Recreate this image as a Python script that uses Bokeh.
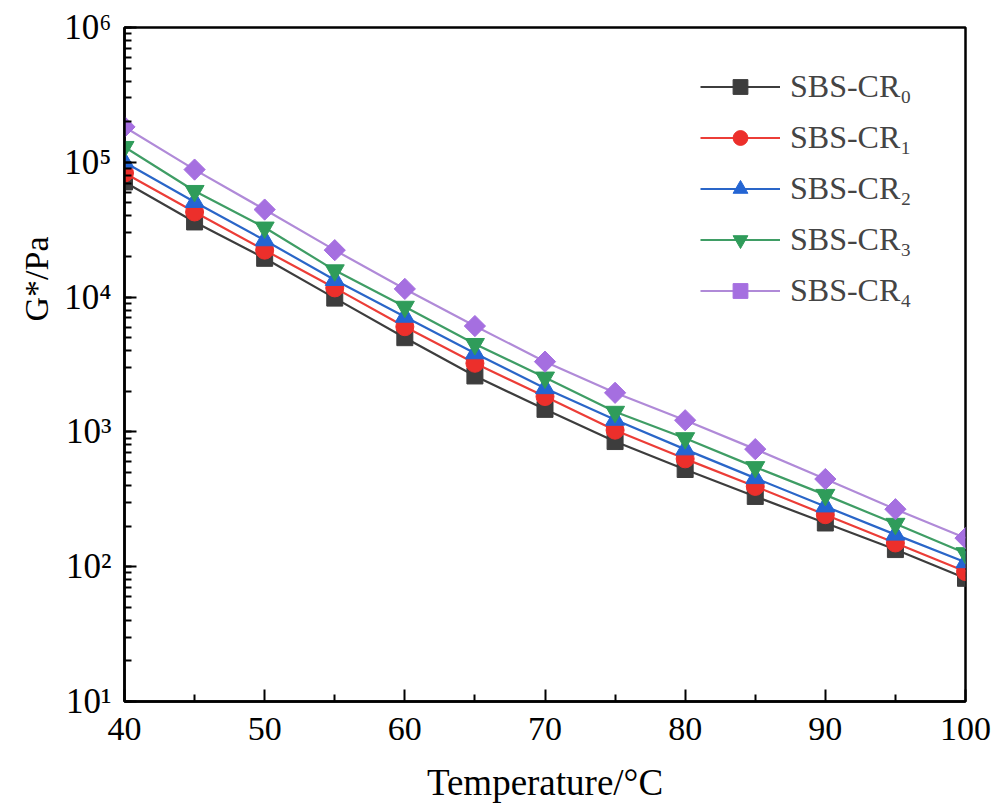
import math
from bokeh.plotting import figure
from bokeh.models import (Range1d, LogTicker, FixedTicker, CustomJSTickFormatter,
                          Legend, LegendItem, Title)
from bokeh.embed import file_html
from bokeh.resources import INLINE

temperature = [40, 45, 50, 55, 60, 65, 70, 75, 80, 85, 90, 95, 100]
g_cr0 = [71500, 36100, 19400, 9830, 5000, 2600, 1470, 848, 526, 332, 211, 134, 82]
g_cr1 = [83300, 42800, 22300, 11700, 6030, 3230, 1830, 1030, 631, 394, 243, 150, 92]
g_cr2 = [100000, 50800, 26400, 13400, 7150, 3830, 2110, 1230, 742, 454, 280, 173, 108]
g_cr3 = [130000, 61300, 32800, 15800, 8480, 4490, 2530, 1410, 898, 548, 341, 208, 126]
g_cr4 = [183000, 88300, 44600, 22300, 11500, 6100, 3320, 1950, 1220, 745, 447, 267, 163]

series_labels = ["SBS-CR\u2080", "SBS-CR\u2081", "SBS-CR\u2082", "SBS-CR\u2083", "SBS-CR\u2084"]
series_values = [g_cr0, g_cr1, g_cr2, g_cr3, g_cr4]
x_ticks = [40, 50, 60, 70, 80, 90, 100]
x_minor_ticks = [45, 55, 65, 75, 85, 95]

colors = ["#3d3d3d", "#ec2f2b", "#2465d3", "#2f9c5a", "#a56fe0"]
line_colors = ["#3d3d3d", "#ec3d37", "#2a66c8", "#3f9d65", "#b08ad8"]
markers = ["square", "circle", "triangle", "inverted_triangle", "square"]
angles = [0, 0, 0, 0, math.pi / 4]
sizes = [16, 18, 19, 19, 15]

FONT = "Liberation Serif"

p = figure(width=1005, height=805, x_range=Range1d(40, 100), y_range=Range1d(10, 1e6),
           y_axis_type="log", output_backend="svg", toolbar_location=None,
           min_border_left=124, min_border_right=40, min_border_top=27, min_border_bottom=103)

p.xgrid.visible = False
p.ygrid.visible = False
p.outline_line_color = "black"
p.outline_line_width = 2.5
p.outline_line_alpha = 1
p.background_fill_color = "white"
p.border_fill_color = "white"

items = []
for lab, vals, c, lc, m, a, s in zip(series_labels, series_values, colors, line_colors,
                                     markers, angles, sizes):
    lr = p.line(temperature, vals, line_color=lc, line_width=2.2)
    sr = p.scatter(temperature, vals, marker=m, angle=a, size=s, fill_color=c, line_color=c)
    items.append(LegendItem(label=lab, renderers=[lr, sr]))

# x axis
xa = p.xaxis[0]
xa.ticker = FixedTicker(ticks=x_ticks, minor_ticks=x_minor_ticks)
xa.axis_label = "Temperature/\u00b0C"
xa.axis_label_text_font = FONT
xa.axis_label_text_font_style = "normal"
xa.axis_label_text_font_size = "37px"
xa.axis_label_standoff = 19
xa.major_label_text_font = FONT
xa.major_label_text_font_size = "34px"
xa.major_label_standoff = 16

# y axis
ya = p.yaxis[0]
ya.ticker = LogTicker(num_minor_ticks=10, desired_num_ticks=6)
ya.formatter = CustomJSTickFormatter(code="""
const sup = {"0":"\u2070","1":"\u00b9","2":"\u00b2","3":"\u00b3","4":"\u2074",
             "5":"\u2075","6":"\u2076","7":"\u2077","8":"\u2078","9":"\u2079","-":"\u207b"};
const e = Math.round(Math.log10(tick));
return "10" + String(e).split("").map(c => sup[c]).join("");
""")
ya.major_label_text_font = FONT
ya.major_label_text_font_size = "35px"
ya.major_label_standoff = 13

for ax in (xa, ya):
    ax.axis_line_width = 2.5
    ax.axis_line_color = "black"
    ax.major_tick_in = 12
    ax.major_tick_out = 0
    ax.minor_tick_in = 7
    ax.minor_tick_out = 0
    ax.major_tick_line_width = 2
    ax.minor_tick_line_width = 2
    ax.major_tick_line_color = "black"
    ax.minor_tick_line_color = "black"
    ax.major_label_text_color = "black"
    ax.axis_label_text_color = "black"

# y axis title
p.add_layout(Title(text="G*/Pa", align="left", offset=380, standoff=14,
                   text_font=FONT, text_font_size="34px", text_font_style="normal",
                   text_color="black"), "left")

legend = Legend(items=items, location=(576, 392), border_line_color=None,
                background_fill_alpha=0, padding=0, margin=0, spacing=14,
                glyph_width=80, glyph_height=37, label_height=37,
                label_text_font=FONT, label_text_font_size="32px",
                label_standoff=10)
p.add_layout(legend)

open("out.html", "w").write(file_html(p, INLINE))
